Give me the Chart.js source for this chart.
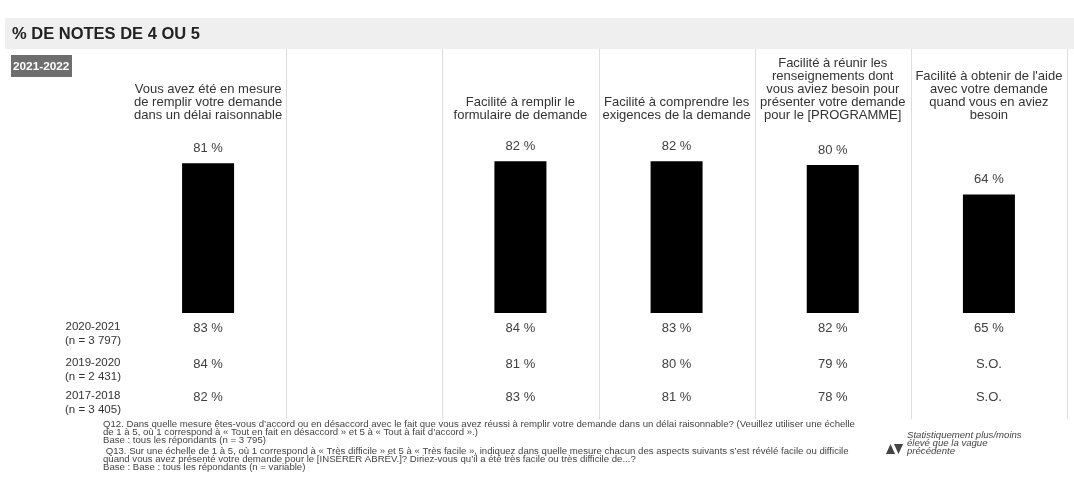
<!DOCTYPE html>
<html>
<head>
<meta charset="utf-8">
<script src="https://cdn.jsdelivr.net/npm/chart.js@4"></script>
<style>
  html, body { margin: 0; padding: 0; background: #fff; }
  #wrap { width: 1074px; height: 487px; position: relative; }
</style>
</head>
<body>
<div id="wrap"><canvas id="notesChart"></canvas></div>
<script>
const categories = [
    ['Vous avez été en mesure', 'de remplir votre demande', 'dans un délai raisonnable'],
    '',
    ['Facilité à remplir le', 'formulaire de demande'],
    ['Facilité à comprendre les', 'exigences de la demande'],
    ['Facilité à réunir les', 'renseignements dont', 'vous aviez besoin pour', 'présenter votre demande', 'pour le [PROGRAMME]'],
    ["Facilité à obtenir de l'aide", 'avec votre demande', 'quand vous en aviez', 'besoin']
];
const current = [81, null, 82, 82, 80, 64];      // 2021-2022
const wave2021 = [83, null, 84, 83, 82, 65];     // 2020-2021
const wave2020 = [84, null, 81, 80, 79, 'S.O.']; // 2019-2020
const wave2018 = [82, null, 83, 81, 78, 'S.O.']; // 2017-2018
const waveLabels = [
    ['2020-2021', '(n = 3 797)'],
    ['2019-2020', '(n = 2 431)'],
    ['2017-2018', '(n = 3 405)']
];
const waves = [wave2021, wave2020, wave2018];
const notes = [
    'Q12. Dans quelle mesure êtes-vous d’accord ou en désaccord avec le fait que vous avez réussi à remplir votre demande dans un délai raisonnable? (Veuillez utiliser une échelle',
    'de 1 à 5, où 1 correspond à « Tout en fait en désaccord » et 5 à « Tout à fait d’accord ».)',
    'Base : tous les répondants (n = 3 795)',
    ' Q13. Sur une échelle de 1 à 5, où 1 correspond à « Très difficile » et 5 à « Très facile », indiquez dans quelle mesure chacun des aspects suivants s’est révélé facile ou difficile',
    'quand vous avez présenté votre demande pour le [INSÉRER ABRÉV.]? Diriez-vous qu’il a été très facile ou très difficile de...?',
    'Base : Base : tous les répondants (n = variable)'
];
const legendLines = ['Statistiquement plus/moins', 'élevé que la vague', 'précédente'];

const FONT = '"Liberation Sans", Arial, sans-serif';
const NARROW = '"Liberation Sans Narrow", "Liberation Sans", Arial, sans-serif';

const decor = {
    id: 'decor',
    beforeDraw(chart) {
        const c = chart.ctx;
        c.save();
        // title band
        c.fillStyle = '#efefef';
        c.fillRect(5, 18, 1069, 31);
        c.fillStyle = '#222';
        c.font = 'bold 16.5px ' + FONT;
        c.textBaseline = 'middle';
        c.textAlign = 'left';
        c.fillText('% DE NOTES DE 4 OU 5', 12, 34);
        // badge
        c.fillStyle = '#6e6e6e';
        c.fillRect(11, 55, 61, 22);
        c.fillStyle = '#fff';
        c.font = 'bold 11.8px ' + FONT;
        c.fillText('2021-2022', 13, 66.5);
        // separators between categories
        const x = chart.scales.x;
        const step = x.getPixelForValue(1) - x.getPixelForValue(0);
        c.strokeStyle = '#dcdcdc';
        c.lineWidth = 1;
        for (let i = 1; i <= categories.length; i++) {
            const px = Math.round(x.getPixelForValue(i) - step / 2) + 0.5;
            c.beginPath();
            c.moveTo(px, 49);
            c.lineTo(px, 419);
            c.stroke();
        }
        c.restore();
    },
    afterDatasetsDraw(chart) {
        const c = chart.ctx;
        const x = chart.scales.x;
        c.save();
        c.textAlign = 'center';
        c.textBaseline = 'middle';
        // values above bars
        c.fillStyle = '#404040';
        c.font = '13px ' + FONT;
        chart.getDatasetMeta(0).data.forEach((bar, i) => {
            if (current[i] == null) return;
            c.fillText(current[i] + ' %', bar.x, bar.y - 15);
        });
        // previous waves
        const rowY = [328, 364, 397];
        waves.forEach((row, r) => {
            c.fillStyle = '#404040';
            c.font = '13px ' + FONT;
            row.forEach((v, i) => {
                if (v == null) return;
                const txt = typeof v === 'number' ? v + ' %' : v;
                c.fillText(txt, x.getPixelForValue(i), rowY[r]);
            });
            c.fillStyle = '#333';
            c.font = '11.5px ' + FONT;
            c.fillText(waveLabels[r][0], 93, rowY[r] - 1);
            c.fillText(waveLabels[r][1], 93, rowY[r] + 13);
        });
        // footnotes
        c.textAlign = 'left';
        c.fillStyle = '#444';
        c.font = '9.6px ' + NARROW;
        const noteY = [424, 432, 440, 451, 459, 467];
        notes.forEach((t, i) => c.fillText(t, 103, noteY[i]));
        // legend
        c.fillStyle = '#444';
        c.beginPath();
        c.moveTo(886, 454); c.lineTo(890.5, 444); c.lineTo(895, 454); c.closePath();
        c.fill();
        c.beginPath();
        c.moveTo(894, 444); c.lineTo(903, 444); c.lineTo(898.5, 454); c.closePath();
        c.fill();
        c.font = 'italic 9.6px ' + FONT;
        legendLines.forEach((t, i) => c.fillText(t, 907, 435 + i * 8));
        c.restore();
    }
};

const ctx = document.getElementById('notesChart').getContext('2d');
const notesChart = new Chart(ctx, {
    type: 'bar',
    data: {
        labels: categories,
        datasets: [{
            label: '2021-2022',
            data: current,
            backgroundColor: '#000',
            borderWidth: 0,
            barPercentage: 1,
            categoryPercentage: 0.333
        }]
    },
    options: {
        responsive: true,
        maintainAspectRatio: false,
        animation: false,
        layout: { padding: { left: 130, right: 7, top: 50, bottom: 174 } },
        plugins: { legend: { display: false }, tooltip: { enabled: false } },
        scales: {
            x: {
                position: 'top',
                grid: { display: false, drawTicks: false },
                border: { display: false },
                ticks: {
                    color: '#333',
                    font: { family: FONT, size: 13, lineHeight: 1.0 },
                    padding: 6.5,
                    maxRotation: 0,
                    autoSkip: false
                }
            },
            y: { display: false, min: 0, max: 100 }
        }
    },
    plugins: [decor]
});
</script>
</body>
</html>
